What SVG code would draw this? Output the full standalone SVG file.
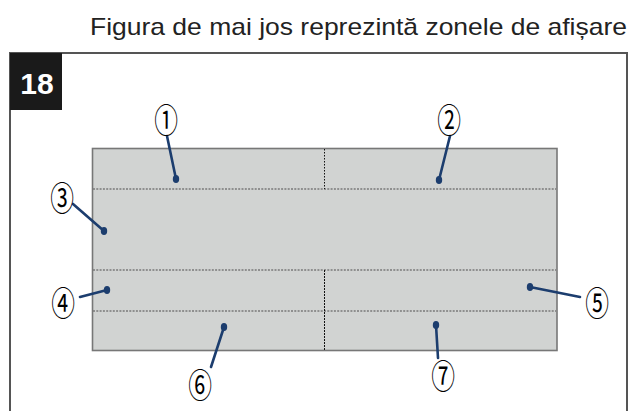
<svg xmlns="http://www.w3.org/2000/svg" width="632" height="411" viewBox="0 0 632 411">
<style>
.title{font-family:"Liberation Sans",Arial,sans-serif;font-size:24px;fill:#222}
.badge{font-family:"Liberation Sans",Arial,sans-serif;font-size:30px;font-weight:bold;fill:#fff}
.num{font-family:"Noto Sans CJK JP","DejaVu Sans",sans-serif;font-size:33px;fill:#000}
.lead{stroke:#1c3d6e;stroke-width:2.6;stroke-linecap:round;fill:none}
.dot{fill:#1c3d6e}
.hdiv{stroke:#7a7a7a;stroke-width:1.6;stroke-dasharray:2 1.3}
.vdiv{stroke:#111;stroke-width:1;stroke-dasharray:1.5 1.5}
</style>
<rect width="632" height="411" fill="#fff"/>
<text class="title" x="90" y="35" textLength="537" lengthAdjust="spacingAndGlyphs">Figura de mai jos reprezintă zonele de afișare</text>
<g id="frame">
<path d="M10,425 V53 H627 V425" fill="none" stroke="#555" stroke-width="2"/>
<rect x="10" y="53" width="52" height="57" fill="#1a1a1a"/>
<text class="badge" x="37" y="94" text-anchor="middle">18</text>
</g>
<g id="panel">
<rect x="92.5" y="148.5" width="464.5" height="202" fill="#d1d3d2" stroke="#777" stroke-width="1.6"/>
<line class="hdiv" x1="93" y1="189" x2="556" y2="189"/>
<line class="hdiv" x1="93" y1="270" x2="556" y2="270"/>
<line class="hdiv" x1="93" y1="311" x2="556" y2="311"/>
<line class="vdiv" x1="324.5" y1="149" x2="324.5" y2="189"/>
<line class="vdiv" x1="324.5" y1="270" x2="324.5" y2="350" style="stroke-dasharray:2 1"/>
</g>
<g id="connectors">
<line class="lead" x1="167" y1="136" x2="176" y2="179"/><ellipse class="dot" cx="176" cy="179" rx="3.2" ry="4"/>
<line class="lead" x1="450" y1="136" x2="439" y2="180"/><ellipse class="dot" cx="439" cy="180" rx="3.2" ry="4"/>
<line class="lead" x1="73" y1="204" x2="104" y2="231"/><ellipse class="dot" cx="104" cy="231" rx="3.2" ry="4"/>
<line class="lead" x1="80" y1="297" x2="107" y2="290"/><ellipse class="dot" cx="107" cy="290" rx="3.2" ry="4"/>
<line class="lead" x1="580" y1="297" x2="530" y2="287"/><ellipse class="dot" cx="530" cy="287" rx="3.2" ry="4"/>
<line class="lead" x1="211" y1="367" x2="224" y2="327"/><ellipse class="dot" cx="224" cy="327" rx="3.2" ry="4"/>
<line class="lead" x1="438" y1="358" x2="436" y2="325"/><ellipse class="dot" cx="436" cy="325" rx="3.2" ry="4"/>
</g>
<g id="n1" transform="translate(166,121) scale(0.72,1.05)"><text class="num" text-anchor="middle" y="11">①</text></g>
<g id="n2" transform="translate(449,121) scale(0.72,1.05)"><text class="num" text-anchor="middle" y="11">②</text></g>
<g id="n3" transform="translate(62,199) scale(0.72,1.05)"><text class="num" text-anchor="middle" y="11">③</text></g>
<g id="n4" transform="translate(63,304) scale(0.72,1.05)"><text class="num" text-anchor="middle" y="11">④</text></g>
<g id="n5" transform="translate(597,304) scale(0.72,1.05)"><text class="num" text-anchor="middle" y="11">⑤</text></g>
<g id="n6" transform="translate(200,386) scale(0.72,1.05)"><text class="num" text-anchor="middle" y="11">⑥</text></g>
<g id="n7" transform="translate(443,377) scale(0.72,1.05)"><text class="num" text-anchor="middle" y="11">⑦</text></g>
</svg>
